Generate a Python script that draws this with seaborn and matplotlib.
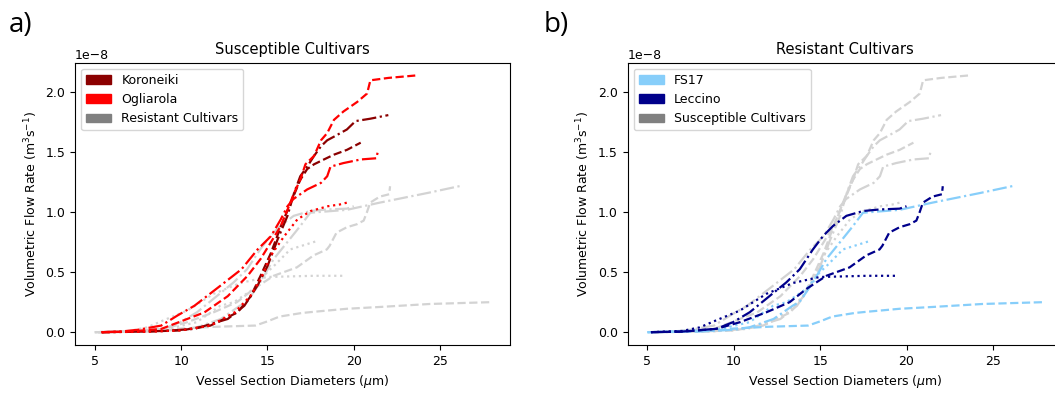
import numpy as np
import pandas as pd
import seaborn as sns
import matplotlib
matplotlib.use("Agg")
import matplotlib.pyplot as plt
from matplotlib.patches import Patch

# vessel diameter (um) and flow rate (x 1e-8 m^3/s)
kor_dash_x = [5.4, 8, 10, 11.7, 13.27, 14.04, 14.6, 15.2, 15.77, 16.35, 16.9, 17.3, 17.7, 18.27, 18.85, 19.6, 20.4]
kor_dash_y = [0, 0.005, 0.015, 0.055, 0.165, 0.30, 0.47, 0.66, 0.88, 1.08, 1.27, 1.36, 1.40, 1.44, 1.48, 1.52, 1.58]
kor_dashdot_x = [5.4, 7, 9, 10.77, 12.7, 13.66, 14.43, 15.0, 15.58, 16.16, 16.54, 16.9, 17.3, 17.7, 18.1, 18.46, 18.85, 19.6, 20.1, 20.96, 22.0]
kor_dashdot_y = [0, 0.003, 0.01, 0.027, 0.11, 0.22, 0.39, 0.55, 0.77, 0.97, 1.16, 1.30, 1.38, 1.47, 1.55, 1.60, 1.63, 1.69, 1.76, 1.78, 1.81]

ogl_dash_x = [5.4, 7, 8.85, 11.35, 12.7, 13.85, 14.6, 15.2, 15.77, 16.16, 16.54, 16.9, 17.2, 17.7, 18.1, 18.46, 18.85, 19.4, 20.2, 20.77, 20.96, 22.0, 23.56]
ogl_dash_y = [0, 0.005, 0.027, 0.165, 0.30, 0.47, 0.61, 0.75, 0.885, 1.02, 1.16, 1.27, 1.40, 1.47, 1.60, 1.66, 1.77, 1.84, 1.92, 1.99, 2.10, 2.12, 2.14]
ogl_dashdot_x = [5.4, 6.5, 7.5, 8.85, 9.8, 10.77, 12.3, 13.5, 14.43, 15.2, 15.77, 16.16, 16.5, 17.3, 18.1, 18.46, 18.65, 19.4, 20.4, 21.3, 21.4]
ogl_dashdot_y = [0, 0.005, 0.02, 0.055, 0.14, 0.22, 0.39, 0.525, 0.69, 0.80, 0.94, 1.05, 1.11, 1.19, 1.245, 1.30, 1.38, 1.41, 1.44, 1.45, 1.51]
ogl_dot_x = [5.4, 8, 10, 11.7, 13.1, 14.0, 14.6, 15.2, 15.97, 16.73, 17.5, 18.5, 19.2, 19.6]
ogl_dot_y = [0, 0.003, 0.015, 0.055, 0.165, 0.30, 0.44, 0.64, 0.80, 0.94, 1.01, 1.05, 1.065, 1.08]

fs17_dash_x = [5, 7, 9, 10, 12, 14.3, 15, 15.7, 17, 17.7, 19.6, 21.5, 24.4, 27.9]
fs17_dash_y = [0, 0.003, 0.015, 0.03, 0.045, 0.055, 0.09, 0.13, 0.16, 0.17, 0.195, 0.21, 0.235, 0.25]
fs17_dashdot_x = [5, 8, 10, 10.9, 12.3, 13.4, 13.8, 14.58, 15.36, 16.13, 16.9, 17.48, 19.6, 21.5, 24.25, 26.2]
fs17_dashdot_y = [0, 0.005, 0.02, 0.04, 0.11, 0.22, 0.25, 0.415, 0.61, 0.747, 0.885, 0.996, 1.02, 1.08, 1.16, 1.22]
fs17_dot_x = [5, 9, 10.9, 12.27, 13.05, 14.2, 14.98, 15.36, 16.32, 17.87]
fs17_dot_y = [0, 0.02, 0.083, 0.22, 0.25, 0.36, 0.5, 0.55, 0.69, 0.76]

lec_dash_x = [5.2, 7.1, 9.0, 10.35, 11.89, 13.23, 14.2, 15.36, 16.7, 17.67, 18.44, 18.6, 19.0, 19.6, 20.18, 20.57, 20.76, 20.95, 21.5, 22.05, 22.1]
lec_dash_y = [0, 0.005, 0.028, 0.083, 0.166, 0.25, 0.36, 0.47, 0.54, 0.64, 0.69, 0.72, 0.83, 0.875, 0.90, 0.93, 1.0, 1.08, 1.13, 1.15, 1.217]
lec_dashdot_x = [5.2, 7, 8.99, 9.95, 10.92, 11.89, 13.04, 13.82, 14.58, 15.16, 15.74, 16.52, 17.48, 18.44, 19.6, 20.0]
lec_dashdot_y = [0, 0.005, 0.028, 0.083, 0.166, 0.28, 0.415, 0.525, 0.69, 0.80, 0.885, 0.97, 1.01, 1.023, 1.03, 1.05]
lec_dot_x = [5.2, 7, 8.03, 9.0, 10.35, 11.89, 13.43, 14.97, 17.7, 19.4]
lec_dot_y = [0, 0.01, 0.04, 0.1, 0.18, 0.32, 0.41, 0.46, 0.47, 0.47]

susceptible = {
    "Koroneiki": ("darkred", [(kor_dash_x, kor_dash_y, "--"), (kor_dashdot_x, kor_dashdot_y, "-.")]),
    "Ogliarola": ("red", [(ogl_dash_x, ogl_dash_y, "--"), (ogl_dashdot_x, ogl_dashdot_y, "-."),
                          (ogl_dot_x, ogl_dot_y, ":")]),
}
resistant = {
    "FS17": ("lightskyblue", [(fs17_dash_x, fs17_dash_y, "--"), (fs17_dashdot_x, fs17_dashdot_y, "-."),
                              (fs17_dot_x, fs17_dot_y, ":")]),
    "Leccino": ("darkblue", [(lec_dash_x, lec_dash_y, "--"), (lec_dashdot_x, lec_dashdot_y, "-."),
                             (lec_dot_x, lec_dot_y, ":")]),
}

fs = 9
fig = plt.figure(figsize=(10.55, 3.95), dpi=100)
ax1 = fig.add_axes([0.0711, 0.1266, 0.4123, 0.7147])
ax2 = fig.add_axes([0.595, 0.1266, 0.4123, 0.7147])


def draw(ax, group, color=None):
    for name, (c, curves) in group.items():
        for x, y, ls in curves:
            df = pd.DataFrame({"d": x, "q": np.array(y) * 1e-8})
            sns.lineplot(data=df, x="d", y="q", ax=ax, color=color or c, linestyle=ls,
                         linewidth=1.6, estimator=None, sort=False)


draw(ax1, resistant, "lightgray")
draw(ax1, susceptible)
draw(ax2, susceptible, "lightgray")
draw(ax2, resistant)

for ax, title, group, other in [(ax1, "Susceptible Cultivars", susceptible, "Resistant Cultivars"),
                                (ax2, "Resistant Cultivars", resistant, "Susceptible Cultivars")]:
    ax.set_title(title, fontsize=10.5)
    ax.set_xlabel("Vessel Section Diameters ($\\mu$m)", fontsize=fs)
    ax.set_ylabel("Volumetric Flow Rate (m$^3$s$^{-1}$)", fontsize=fs)
    ax.tick_params(labelsize=fs)
    ax.yaxis.get_offset_text().set_fontsize(fs)
    handles = [Patch(color=c, label=n) for n, (c, _) in group.items()]
    handles.append(Patch(color="gray", label=other))
    ax.legend(handles=handles, loc="upper left", fontsize=fs)

fig.text(0.008, 0.92, "a)", fontsize=20, family="Open Sans")
fig.text(0.515, 0.92, "b)", fontsize=20, family="Open Sans")

fig.savefig("out.png", dpi=100)
